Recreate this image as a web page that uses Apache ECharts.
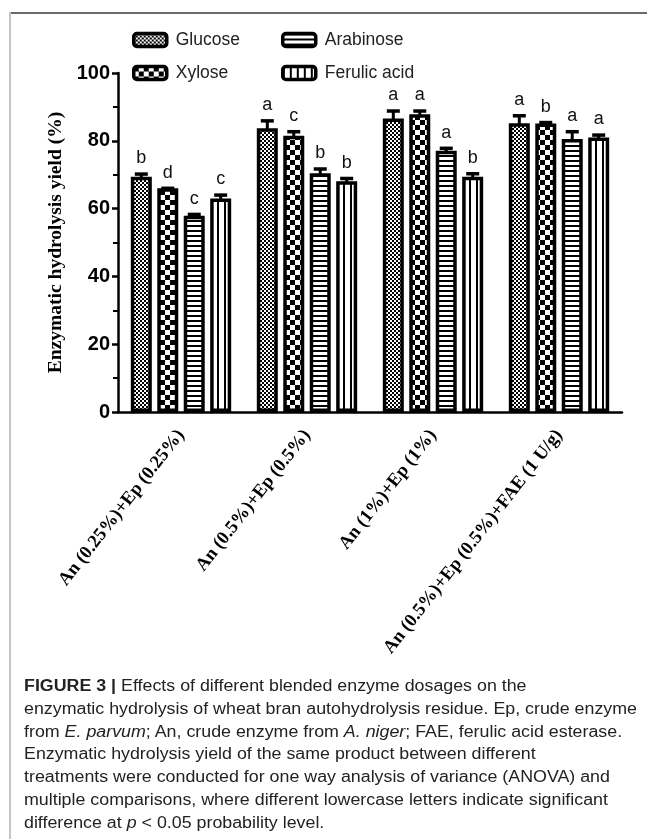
<!DOCTYPE html>
<html><head><meta charset="utf-8">
<script src="https://cdn.jsdelivr.net/npm/echarts/dist/echarts.min.js"></script>
<style>
html,body{margin:0;padding:0;background:#fff;}
#wrap{position:relative;width:647px;height:839px;overflow:hidden;background:#fff;}
#chart{position:absolute;left:0;top:0;width:647px;height:839px;}
#frameTop{position:absolute;left:10px;top:12px;width:637px;height:2px;background:#6a6a6a;}
#frameLeft{position:absolute;left:9px;top:12px;width:2px;height:827px;background:#c4c4c4;}
#caption{position:absolute;left:24px;top:675px;font-family:"Liberation Sans",Arial,sans-serif;font-size:16px;line-height:22.8px;color:#222;white-space:nowrap;transform-origin:0 0;}
#caption div{display:inline-block;}
</style></head>
<body>
<div id="wrap">
<div id="chart"></div>
<div id="frameTop"></div>
<div id="frameLeft"></div>
<div id="caption">
<div id="cl1"><b>FIGURE 3 |</b> Effects of different blended enzyme dosages on the</div><br>
<div id="cl2">enzymatic hydrolysis of wheat bran autohydrolysis residue. Ep, crude enzyme</div><br>
<div id="cl3">from <i>E. parvum</i>; An, crude enzyme from <i>A. niger</i>; FAE, ferulic acid esterase.</div><br>
<div>Enzymatic hydrolysis yield of the same product between different</div><br>
<div>treatments were conducted for one way analysis of variance (ANOVA) and</div><br>
<div>multiple comparisons, where different lowercase letters indicate significant</div><br>
<div>difference at <i>p</i> &lt; 0.05 probability level.</div>
</div>
</div>
<script>
// ---- data ----
const categories = ['An (0.25%)+Ep (0.25%)', 'An (0.5%)+Ep (0.5%)', 'An (1%)+Ep (1%)', 'An (0.5%)+Ep (0.5%)+FAE (1 U/g)'];
const seriesNames = ['Glucose', 'Xylose', 'Arabinose', 'Ferulic acid'];
const glucose = [69.4, 83.7, 86.6, 85.2];
const xylose = [66.0, 81.5, 87.8, 85.1];
const arabinose = [57.9, 70.4, 77.1, 80.5];
const ferulic = [63.0, 68.1, 69.4, 81.0];
const glucoseErr = [1.3, 2.7, 2.7, 2.7];
const xyloseErr = [0.5, 1.7, 1.5, 0.8];
const arabinoseErr = [0.9, 1.8, 1.2, 2.7];
const ferulicErr = [1.5, 1.3, 1.4, 1.2];
const glucoseLetters = ['b', 'a', 'a', 'a'];
const xyloseLetters = ['d', 'c', 'a', 'b'];
const arabinoseLetters = ['c', 'b', 'a', 'a'];
const ferulicLetters = ['c', 'b', 'b', 'a'];
const yMin = 0, yMax = 100, yStep = 20;

// ---- patterns ----
function pat(type) {
  const c = document.createElement('canvas');
  let ctx;
  if (type === 'fine') {
    c.width = 4; c.height = 4; ctx = c.getContext('2d');
    ctx.fillStyle = '#fff'; ctx.fillRect(0, 0, 4, 4);
    ctx.fillStyle = '#000'; ctx.fillRect(0, 0, 2, 2); ctx.fillRect(2, 2, 2, 2);
  } else if (type === 'checker') {
    c.width = 10; c.height = 10; ctx = c.getContext('2d');
    ctx.fillStyle = '#fff'; ctx.fillRect(0, 0, 10, 10);
    ctx.fillStyle = '#000'; ctx.fillRect(0, 0, 5, 5); ctx.fillRect(5, 5, 5, 5);
  } else if (type === 'hstripe') {
    c.width = 4; c.height = 5; ctx = c.getContext('2d');
    ctx.fillStyle = '#fff'; ctx.fillRect(0, 0, 4, 5);
    ctx.fillStyle = '#000'; ctx.fillRect(0, 0, 4, 2);
  } else {
    c.width = 7; c.height = 4; ctx = c.getContext('2d');
    ctx.fillStyle = '#fff'; ctx.fillRect(0, 0, 7, 4);
    ctx.fillStyle = '#000'; ctx.fillRect(0, 0, 2, 4);
  }
  return { image: c, repeat: 'repeat' };
}
const patterns = [pat('fine'), pat('checker'), pat('hstripe'), pat('vstripe')];
const values = [glucose, xylose, arabinose, ferulic];
const errs = [glucoseErr, xyloseErr, arabinoseErr, ferulicErr];
const letters = [glucoseLetters, xyloseLetters, arabinoseLetters, ferulicLetters];

const barW = 21, barGapRatio = 0.26;
const barStep = barW * (1 + barGapRatio);
const capW = 3.5;

const series = [];
seriesNames.forEach((n, i) => {
  series.push({
    type: 'bar', name: n, data: values[i], barWidth: barW, barGap: (barGapRatio * 100) + '%',
    itemStyle: { color: patterns[i], borderColor: '#000', borderWidth: 3.5 },
    emphasis: { disabled: true }, z: 2
  });
});
seriesNames.forEach((n, i) => {
  series.push({
    type: 'custom', name: n + ' error', z: 5, silent: true,
    data: values[i].map((v, j) => [j, v, v + errs[i][j]]),
    renderItem: (params, api) => {
      const j = api.value(0);
      const base = api.coord([j, api.value(1)]);
      const top = api.coord([j, api.value(2)]);
      const x = base[0] + (i - 1.5) * barStep;
      const yc = top[1] + capW / 2;
      return {
        type: 'group', children: [
          { type: 'line', shape: { x1: x, y1: base[1] + 2, x2: x, y2: yc }, style: { stroke: '#000', lineWidth: 3 } },
          { type: 'line', shape: { x1: x - 6.5, y1: yc, x2: x + 6.5, y2: yc }, style: { stroke: '#000', lineWidth: capW } },
          { type: 'text', x: x, y: top[1] - 5, style: { text: letters[i][j], fontSize: 18, fontFamily: 'Liberation Sans', fill: '#111', align: 'center', verticalAlign: 'bottom' } }
        ]
      };
    }
  });
});

const chart = echarts.init(document.getElementById('chart'), null, { renderer: 'canvas' });
const legendText = { fontFamily: 'Liberation Sans', fontSize: 17.5, color: '#222', padding: [0, 0, 0, 4] };
const legendItem = { borderColor: '#000', borderWidth: 3.5 };
chart.setOption({
  animation: false,
  backgroundColor: 'transparent',
  legend: [
    { data: ['Glucose', 'Xylose'], orient: 'vertical', left: 127, top: 26, itemWidth: 33, itemHeight: 13, itemGap: 15, icon: 'roundRect', textStyle: legendText, itemStyle: legendItem, selectedMode: false },
    { data: ['Arabinose', 'Ferulic acid'], orient: 'vertical', left: 276, top: 26, itemWidth: 33, itemHeight: 13, itemGap: 15, icon: 'roundRect', textStyle: legendText, itemStyle: legendItem, selectedMode: false }
  ],
  grid: { left: 118, right: 25, top: 73, bottom: 427, outerBoundsMode: 'none', containLabel: false },
  xAxis: {
    type: 'category', data: categories,
    axisLine: { lineStyle: { color: '#000', width: 2.5 } },
    axisTick: { alignWithLabel: true, length: 7, lineStyle: { color: '#000', width: 2 } },
    axisLabel: { rotate: 52, interval: 0, margin: 20, fontFamily: 'Liberation Serif', fontWeight: 'bold', fontSize: 18.5, color: '#000' },
    splitLine: { show: false }
  },
  yAxis: {
    type: 'value', min: yMin, max: yMax, interval: yStep,
    name: 'Enzymatic hydrolysis yield (%)', nameLocation: 'middle', nameGap: 46,
    nameTextStyle: { fontFamily: 'Liberation Serif', fontWeight: 'bold', fontSize: 19.5, color: '#000' },
    axisLine: { show: true, lineStyle: { color: '#000', width: 2.5 } },
    axisTick: { show: true, length: 6, lineStyle: { color: '#000', width: 2.5 } },
    minorTick: { show: true, splitNumber: 2, length: 5, lineStyle: { color: '#000', width: 2 } },
    axisLabel: { fontFamily: 'Liberation Sans', fontWeight: 'bold', fontSize: 20, color: '#000', margin: 8 },
    splitLine: { show: false }, minorSplitLine: { show: false }
  },
  series: series
});

// fit caption width to reference line width
const l2 = document.getElementById('cl2');
const w = l2.getBoundingClientRect().width;
document.getElementById('caption').style.transform = 'scaleX(' + (613 / w) + ')';
</script>
</body></html>
